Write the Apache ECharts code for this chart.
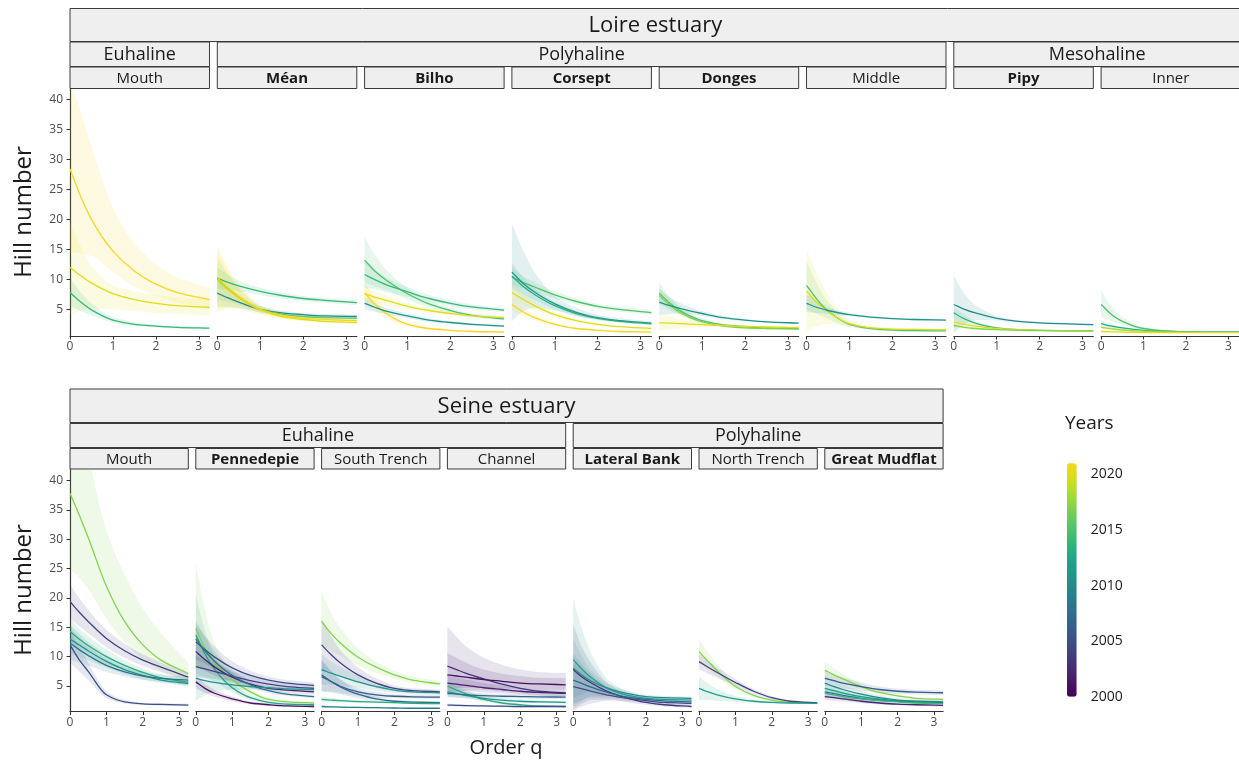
<!DOCTYPE html>
<html><head><meta charset="utf-8">
<script src="https://cdn.jsdelivr.net/npm/echarts@6/dist/echarts.min.js"></script>
<style>html,body{margin:0;padding:0;background:#fff}#c{width:1239px;height:763px}</style>
</head><body><div id="c"></div>
<script>
// ---------- data ----------
const Q = [0, 0.25, 0.5, 1, 1.5, 2, 2.5, 3.25];
const xTicks = [0, 1, 2, 3];
const yTicks = [5, 10, 15, 20, 25, 30, 35, 40];
const yearTicks = [2000, 2005, 2010, 2015, 2020];

const loireSites = ['Mouth', 'Méan', 'Bilho', 'Corsept', 'Donges', 'Middle', 'Pipy', 'Inner'];
const loireBold = [false, true, true, true, true, false, true, false];
const loireZones = [['Euhaline', 1], ['Polyhaline', 5], ['Mesohaline', 2]];
const seineSites = ['Mouth', 'Pennedepie', 'South Trench', 'Channel', 'Lateral Bank', 'North Trench', 'Great Mudflat'];
const seineBold = [false, true, false, false, true, false, true];
const seineZones = [['Euhaline', 4], ['Polyhaline', 3]];

// each curve: [year, mean, lower, upper] at the orders in Q
const loireMouth = [
  [2021, [28.4,23.8,20.0,14.7,11.4,9.2,7.8,6.6], [14.5,14.3,13.9,11.2,8.8,7.2,6.1,5.0], [44,38,32,22,16,12.5,10.3,8.6]],
  [2020, [12.0,10.6,9.4,7.6,6.6,6.0,5.6,5.3], [4.2,4.8,5.1,5.0,4.7,4.4,4.2,4.0], [19.5,15.5,12.2,9.0,8.0,7.4,7.0,6.7]],
  [2014, [7.8,6.2,4.9,3.2,2.5,2.2,2.0,1.85], [5.5,4.7,4.0,2.8,2.2,1.95,1.8,1.65], [10.2,7.8,6.0,3.7,2.85,2.45,2.2,2.05]]
];
const loireMean = [
  [2014, [10.2,9.5,8.9,8.0,7.3,6.8,6.5,6.1], [8.5,8.3,8.0,7.4,6.8,6.4,6.1,5.7], [12,10.8,9.8,8.6,7.8,7.2,6.9,6.5]],
  [2010, [7.7,6.9,6.2,5.0,4.4,4.1,3.9,3.8], [5.5,5.4,5.2,4.5,4.0,3.8,3.6,3.5], [9.8,8.4,7.2,5.5,4.8,4.4,4.2,4.1]],
  [2016, [10.1,8.5,7.1,5.0,4.2,3.8,3.6,3.5], [6.5,6.2,5.8,4.5,3.8,3.5,3.3,3.2], [13.5,10.8,8.5,5.6,4.6,4.1,3.9,3.8]],
  [2021, [10.3,8.6,7.2,5.0,4.0,3.5,3.3,3.1], [5.0,5.3,5.4,4.3,3.6,3.2,3.0,2.8], [15.5,12,9.2,5.8,4.5,3.9,3.6,3.4]],
  [2020, [9.8,8.2,6.9,4.9,3.8,3.3,3.0,2.8], [4.5,5.0,5.0,4.1,3.4,3.0,2.7,2.5], [14.5,11.5,8.8,5.6,4.3,3.6,3.3,3.1]]
];
const loireBilho = [
  [2015, [13.2,11.3,9.9,7.6,5.9,4.8,4.0,3.4], [9.5,8.8,8.2,6.6,5.3,4.4,3.7,3.1], [17,14,11.6,8.6,6.5,5.2,4.3,3.7]],
  [2014, [10.8,9.9,9.1,7.9,6.8,6.0,5.4,4.85], [8.6,8.3,7.9,7.1,6.2,5.5,5.0,4.5], [13,11.5,10.3,8.7,7.4,6.5,5.8,5.2]],
  [2020, [7.6,7.0,6.5,5.5,4.8,4.3,3.9,3.6], [6.2,6.0,5.7,5.0,4.4,4.0,3.6,3.3], [9.0,8.0,7.3,6.0,5.2,4.6,4.2,3.9]],
  [2021, [7.7,5.8,4.3,2.5,1.8,1.5,1.3,1.2], [6.0,4.6,3.5,2.1,1.6,1.35,1.2,1.1], [9.4,7.0,5.1,2.9,2.0,1.65,1.4,1.3]],
  [2011, [6.0,5.3,4.7,3.9,3.2,2.8,2.5,2.2], [5.0,4.6,4.2,3.5,2.9,2.6,2.3,2.0], [7.0,6.0,5.2,4.3,3.5,3.0,2.7,2.4]]
];
const loireCorsept = [
  [2015, [10.4,9.5,8.8,7.4,6.3,5.5,5.0,4.45], [9,8.5,8,6.8,5.8,5.1,4.6,4.1], [12,10.6,9.6,8.0,6.8,5.9,5.4,4.8]],
  [2011, [11.2,9.4,8.0,5.9,4.5,3.6,3.1,2.7], [3,4.6,5.2,4.8,3.9,3.2,2.8,2.4], [19.3,15,11.5,7.2,5.2,4.1,3.5,3.0]],
  [2013, [10.5,8.9,7.6,5.6,4.3,3.5,3.0,2.6], [8.5,7.5,6.6,5.0,3.9,3.2,2.8,2.4], [12.7,10.4,8.7,6.2,4.7,3.8,3.2,2.8]],
  [2020, [7.8,6.7,5.7,4.1,3.1,2.5,2.1,1.8], [6.5,5.7,5.0,3.7,2.8,2.3,1.95,1.65], [9.2,7.7,6.4,4.5,3.4,2.7,2.25,1.95]],
  [2021, [5.8,4.6,3.7,2.5,1.8,1.5,1.3,1.2], [4.8,3.9,3.2,2.2,1.6,1.35,1.2,1.1], [6.8,5.3,4.2,2.8,2.0,1.65,1.4,1.3]]
];
const loireDonges = [
  [2015, [7.7,6.0,4.7,3.1,2.4,2.1,1.9,1.8], [6.0,5.0,4.1,2.8,2.2,1.95,1.8,1.7], [9.5,7.1,5.4,3.5,2.6,2.25,2.05,1.95]],
  [2017, [7.3,5.7,4.4,2.9,2.2,1.9,1.8,1.7], [5.8,4.8,3.9,2.6,2.0,1.75,1.65,1.55], [8.8,6.7,5.0,3.2,2.4,2.05,1.95,1.85]],
  [2011, [6.2,5.6,5.1,4.3,3.6,3.2,2.9,2.7], [4.0,4.2,4.3,3.9,3.3,3.0,2.75,2.55], [8.4,7.0,6.0,4.7,3.9,3.4,3.05,2.85]],
  [2020, [2.75,2.7,2.6,2.45,2.3,2.15,2.05,1.95], [1.4,1.6,1.8,2.0,2.0,1.95,1.85,1.75], [4.1,3.8,3.4,2.9,2.6,2.35,2.25,2.15]]
];
const loireMiddle = [
  [2015, [9.0,6.6,4.7,2.5,1.8,1.55,1.45,1.4], [5.0,4.2,3.4,2.1,1.6,1.4,1.35,1.3], [13,9.2,6.2,2.9,2.0,1.7,1.55,1.5]],
  [2020, [8.0,6.1,4.6,2.6,1.9,1.7,1.65,1.6], [1.5,2.2,2.6,2.1,1.7,1.55,1.5,1.45], [15,10.8,7.4,3.3,2.2,1.9,1.8,1.75]],
  [2011, [6.0,5.3,4.8,4.1,3.7,3.45,3.3,3.2], [4.5,4.4,4.2,3.8,3.5,3.3,3.15,3.05], [7.5,6.3,5.4,4.4,3.9,3.6,3.45,3.35]]
];
const loirePipy = [
  [2010, [5.8,5.0,4.4,3.5,3.0,2.75,2.6,2.45], [1.0,2.5,3.2,3.1,2.8,2.6,2.45,2.3], [10.6,7.6,5.7,3.9,3.2,2.9,2.75,2.6]],
  [2014, [4.4,3.4,2.7,1.9,1.6,1.5,1.45,1.4], [3.3,2.7,2.3,1.7,1.5,1.4,1.35,1.3], [5.5,4.1,3.1,2.1,1.7,1.6,1.55,1.5]],
  [2020, [2.9,2.5,2.2,1.8,1.6,1.5,1.45,1.4], [2.3,2.1,1.9,1.65,1.5,1.42,1.38,1.33], [3.5,2.9,2.5,1.95,1.7,1.58,1.52,1.47]],
  [2017, [2.3,2.0,1.8,1.6,1.5,1.45,1.4,1.4], [1.9,1.75,1.6,1.5,1.42,1.38,1.34,1.34], [2.7,2.25,2.0,1.7,1.58,1.52,1.46,1.46]]
];
const loireInner = [
  [2015, [5.8,4.1,3.0,1.8,1.4,1.25,1.2,1.2], [3.8,3.0,2.4,1.6,1.3,1.18,1.14,1.14], [8.2,5.4,3.7,2.0,1.5,1.32,1.26,1.26]],
  [2013, [2.6,2.2,1.9,1.5,1.3,1.25,1.2,1.2], [2.1,1.9,1.7,1.4,1.25,1.2,1.16,1.16], [3.1,2.5,2.1,1.6,1.35,1.3,1.24,1.24]],
  [2018, [2.0,1.75,1.55,1.35,1.25,1.2,1.15,1.15], [1.7,1.55,1.42,1.28,1.2,1.15,1.11,1.11], [2.3,1.95,1.68,1.42,1.3,1.25,1.19,1.19]],
  [2020, [1.3,1.25,1.2,1.15,1.1,1.1,1.1,1.1], [1.15,1.12,1.1,1.07,1.04,1.04,1.04,1.04], [1.45,1.38,1.3,1.23,1.16,1.16,1.16,1.16]]
];

const seineMouth = [
  [2017, [37.8,34.2,30.3,22.0,16.0,12.0,9.4,7.1], [25,23.5,21.5,16.5,12.5,9.6,7.6,5.6], [55,49,44,31.5,24,18.2,14,9.0]],
  [2004, [19.4,17.6,16.0,13.1,11.0,9.4,8.2,6.5], [16.5,15.2,14.0,11.6,9.8,8.4,7.4,5.9], [22.3,20.0,18.0,14.6,12.2,10.4,9.0,7.1]],
  [2013, [14.3,13.0,11.9,10.0,8.5,7.3,6.4,5.6], [12.0,11.2,10.3,8.8,7.6,6.6,5.8,5.1], [16.6,14.8,13.5,11.2,9.4,8.0,7.0,6.1]],
  [2011, [13.0,12.0,11.0,9.2,7.8,6.8,6.0,5.4], [10.5,10.0,9.4,8.1,7.0,6.1,5.5,4.9], [15.5,14.0,12.6,10.3,8.6,7.5,6.5,5.9]],
  [2008, [12.3,11.2,10.2,8.5,7.4,6.7,6.3,6.0], [9.5,9.0,8.5,7.4,6.6,6.0,5.7,5.4], [15.1,13.4,11.9,9.6,8.2,7.4,6.9,6.6]],
  [2005, [12.0,9.5,7.5,3.5,2.3,1.95,1.85,1.75], [9.0,7.5,6.0,2.9,2.0,1.75,1.65,1.55], [15.0,11.5,9.0,4.1,2.6,2.15,2.05,1.95]]
];
const seinePennedepie = [
  [2017, [14.8,11.5,9.2,6.0,4.0,2.7,2.3,2.1], [8,7.5,6.8,4.8,3.4,2.4,2.05,1.85], [26,18,12.5,7.3,4.6,3.0,2.55,2.35]],
  [2012, [13.7,10.5,8.0,4.7,3.0,2.2,1.9,1.8], [7,6.5,5.8,3.9,2.6,1.95,1.7,1.6], [20.5,14.5,10.2,5.5,3.4,2.45,2.1,2.0]],
  [2005, [12.5,11.2,10.0,8.1,6.8,6.0,5.5,5.1], [9.5,8.8,8.2,7.0,6.0,5.4,5.0,4.6], [15.5,13.6,11.8,9.2,7.6,6.6,6.0,5.6]],
  [2002, [10.9,9.5,8.3,6.5,5.3,4.6,4.3,4.0], [8.5,7.6,6.9,5.6,4.7,4.1,3.85,3.6], [13.3,11.4,9.7,7.4,5.9,5.1,4.75,4.4]],
  [2004, [8.3,7.9,7.5,6.7,5.9,5.3,4.9,4.6], [6.5,6.4,6.2,5.8,5.2,4.8,4.4,4.1], [10.1,9.4,8.8,7.6,6.6,5.8,5.4,5.1]],
  [2011, [6.3,5.9,5.6,5.2,4.9,4.7,4.5,4.4], [2.5,3.4,4.0,4.4,4.4,4.3,4.15,4.05], [10.1,8.4,7.2,6.0,5.4,5.1,4.85,4.75]],
  [2001, [5.7,4.6,3.8,2.8,2.1,1.8,1.6,1.5], [4.6,3.8,3.2,2.4,1.85,1.6,1.45,1.35], [6.8,5.4,4.4,3.2,2.35,2.0,1.75,1.65]],
  [2008, [13.0,11.0,9.3,6.8,5.2,4.2,3.6,3.2], [9.8,8.6,7.6,5.8,4.6,3.8,3.3,2.9], [16.2,13.4,11.0,7.8,5.8,4.6,3.9,3.5]]
];
const seineSouthTrench = [
  [2017, [16.0,14.0,12.4,9.9,8.2,6.9,6.0,5.35], [12,11,10.2,8.5,7.2,6.2,5.5,4.9], [21,17.5,15,11.4,9.2,7.6,6.6,5.8]],
  [2004, [12.0,10.4,9.0,6.9,5.5,4.6,4.2,4.0], [7.5,7.2,6.8,5.6,4.7,4.1,3.8,3.6], [16.5,13.6,11.2,8.2,6.3,5.1,4.6,4.4]],
  [2011, [7.8,7.2,6.7,5.7,4.9,4.3,4.0,3.85], [5.2,5.2,5.1,4.7,4.2,3.8,3.6,3.45], [10.4,9.2,8.3,6.7,5.6,4.8,4.4,4.25]],
  [2006, [6.6,5.8,5.0,4.0,3.5,3.25,3.15,3.1], [4.0,4.0,3.8,3.3,3.0,2.9,2.85,2.8], [9.2,7.6,6.2,4.7,4.0,3.6,3.45,3.4]],
  [2007, [6.9,5.8,4.9,3.6,2.8,2.4,2.25,2.15], [4.2,3.9,3.6,2.9,2.4,2.15,2.0,1.95], [9.6,7.7,6.2,4.3,3.2,2.65,2.5,2.35]],
  [2013, [2.7,2.6,2.5,2.35,2.25,2.15,2.05,2.0], [2.2,2.2,2.2,2.1,2.05,1.95,1.9,1.85], [3.2,3.0,2.8,2.6,2.45,2.35,2.2,2.15]],
  [2009, [1.5,1.45,1.4,1.35,1.3,1.25,1.2,1.2], [1.3,1.28,1.25,1.22,1.18,1.14,1.1,1.1], [1.7,1.62,1.55,1.48,1.42,1.36,1.3,1.3]]
];
const seineChannel = [
  [2003, [8.4,7.8,7.2,6.2,5.3,4.6,4.1,3.8], [3.5,3.9,4.2,4.3,4.0,3.7,3.4,3.2], [15.1,13.4,11.8,9.8,8.6,7.8,7.4,7.2]],
  [2001, [6.9,6.7,6.5,6.1,5.8,5.5,5.35,5.2], [4.5,4.6,4.7,4.7,4.6,4.5,4.4,4.3], [10.6,9.8,9.0,7.8,7.1,6.7,6.4,6.3]],
  [2002, [5.5,5.3,5.1,4.7,4.4,4.1,3.9,3.75], [4.2,4.2,4.1,3.9,3.7,3.5,3.4,3.3], [6.8,6.4,6.1,5.5,5.1,4.7,4.4,4.2]],
  [2013, [5.0,4.3,3.7,2.7,2.1,1.8,1.6,1.5], [4.0,3.5,3.1,2.35,1.85,1.6,1.45,1.35], [6.0,5.1,4.3,3.05,2.35,2.0,1.75,1.65]],
  [2011, [4.0,3.7,3.4,2.9,2.6,2.4,2.3,2.2], [3.2,3.0,2.85,2.5,2.3,2.15,2.05,1.95], [4.8,4.4,4.0,3.3,2.9,2.65,2.55,2.45]],
  [2007, [3.75,3.6,3.5,3.35,3.25,3.2,3.15,3.1], [3.1,3.05,3.0,2.95,2.9,2.85,2.8,2.8], [4.4,4.2,4.0,3.75,3.6,3.55,3.5,3.4]],
  [2005, [1.75,1.7,1.65,1.6,1.55,1.5,1.5,1.5], [1.5,1.48,1.45,1.42,1.38,1.35,1.35,1.35], [2.0,1.92,1.85,1.78,1.72,1.65,1.65,1.65]]
];
const seineLateralBank = [
  [2012, [9.5,7.8,6.4,4.4,3.4,2.9,2.7,2.6], [1.5,2.5,3.3,3.3,2.8,2.5,2.35,2.25], [19.9,14.5,10.5,5.8,4.1,3.3,3.05,2.95]],
  [2003, [7.8,6.5,5.5,3.9,2.9,2.2,1.8,1.5], [1.0,2.0,2.6,2.7,2.2,1.8,1.5,1.25], [15.5,11.5,8.8,5.2,3.6,2.7,2.15,1.8]],
  [2007, [6.0,5.4,4.8,3.8,3.1,2.7,2.45,2.3], [2.0,2.6,3.0,3.0,2.6,2.35,2.15,2.0], [10.5,8.6,7.0,4.7,3.6,3.1,2.8,2.65]],
  [2005, [4.9,4.5,4.1,3.4,2.9,2.5,2.2,2.05], [0.8,1.5,2.0,2.5,2.4,2.1,1.9,1.75], [9.0,7.5,6.2,4.3,3.4,2.9,2.5,2.35]],
  [2010, [8.0,6.8,5.8,4.5,3.7,3.2,3.0,2.9], [3.0,3.6,4.0,3.7,3.2,2.85,2.7,2.6], [13.0,10.0,7.6,5.3,4.2,3.55,3.3,3.2]]
];
const seineNorthTrench = [
  [2017, [10.85,9.2,7.6,4.9,3.4,2.6,2.2,2.05], [9.0,7.8,6.6,4.4,3.1,2.4,2.05,1.9], [13.0,10.7,8.7,5.4,3.7,2.8,2.35,2.2]],
  [2004, [9.15,8.2,7.3,5.6,4.1,3.0,2.4,2.1], [7.8,7.1,6.4,5.0,3.7,2.75,2.2,1.95], [10.5,9.3,8.2,6.2,4.5,3.25,2.6,2.25]],
  [2012, [4.6,4.0,3.5,2.8,2.4,2.2,2.1,2.05], [2.6,2.6,2.5,2.3,2.1,2.0,1.95,1.9], [6.6,5.4,4.5,3.3,2.7,2.4,2.25,2.2]]
];
const seineGreatMudflat = [
  [2017, [7.7,6.9,6.2,4.9,3.9,3.3,2.9,2.7], [6.2,5.8,5.3,4.4,3.5,3.0,2.65,2.45], [9.2,8.0,7.1,5.4,4.3,3.6,3.15,2.95]],
  [2006, [6.3,5.9,5.5,4.9,4.4,4.1,3.95,3.85], [5.0,4.8,4.6,4.2,3.9,3.65,3.55,3.45], [7.6,7.0,6.4,5.6,4.9,4.55,4.35,4.25]],
  [2010, [5.5,4.9,4.4,3.6,3.0,2.6,2.4,2.3], [4.3,3.9,3.6,3.0,2.6,2.3,2.15,2.05], [6.7,5.9,5.2,4.2,3.4,2.9,2.65,2.55]],
  [2012, [4.6,4.2,3.8,3.2,2.8,2.5,2.35,2.2], [3.6,3.4,3.1,2.7,2.45,2.25,2.1,2.0], [5.6,5.0,4.5,3.7,3.15,2.75,2.6,2.4]],
  [2008, [4.0,3.7,3.4,2.9,2.6,2.4,2.3,2.2], [3.2,3.0,2.8,2.5,2.3,2.15,2.05,1.95], [4.8,4.4,4.0,3.3,2.9,2.65,2.55,2.45]],
  [2014, [3.8,3.5,3.2,2.8,2.5,2.3,2.1,2.0], [3.1,2.9,2.7,2.4,2.2,2.05,1.9,1.8], [4.5,4.1,3.7,3.2,2.8,2.55,2.3,2.2]],
  [2002, [3.2,3.0,2.8,2.4,2.1,1.9,1.8,1.7], [2.6,2.5,2.35,2.05,1.85,1.7,1.6,1.5], [3.8,3.5,3.25,2.75,2.35,2.1,2.0,1.9]]
];

const loirePanels = [loireMouth, loireMean, loireBilho, loireCorsept, loireDonges, loireMiddle, loirePipy, loireInner];
const seinePanels = [seineMouth, seinePennedepie, seineSouthTrench, seineChannel, seineLateralBank, seineNorthTrench, seineGreatMudflat];

// ---------- styling ----------
const FONT = '"Open Sans", "Noto Sans", sans-serif';
const VIRIDIS = ['#440154','#471365','#482475','#463480','#414487','#3b528b','#355f8d','#2f6c8e','#2a788e','#25848e','#21918c','#1e9c89','#22a884','#2fb47c','#44bf70','#5ec962','#7ad151','#9bd93c','#bddf26','#dedd16','#f8d61e'];
const YEAR_MIN = 2000, YEAR_MAX = 2021;
function hex2rgb(h) { return [1,3,5].map(i => parseInt(h.substr(i, 2), 16)); }
function viridis(year) {
  let t = (year - YEAR_MIN) / (YEAR_MAX - YEAR_MIN);
  t = Math.max(0, Math.min(1, t));
  const p = t * (VIRIDIS.length - 1), i = Math.min(Math.floor(p), VIRIDIS.length - 2), f = p - i;
  const a = hex2rgb(VIRIDIS[i]), b = hex2rgb(VIRIDIS[i + 1]);
  return a.map((v, k) => Math.round(v + (b[k] - v) * f));
}
const rgb = c => 'rgb(' + c.join(',') + ')';
const rgba = (c, a) => 'rgba(' + c.join(',') + ',' + a + ')';

// monotone cubic path segments in pixel space (rendering only)
function monoSegs(p) {
  const n = p.length, d = [], h = [], m = [];
  for (let i = 0; i < n - 1; i++) { h.push(p[i + 1][0] - p[i][0]); d.push((p[i + 1][1] - p[i][1]) / h[i]); }
  m[0] = d[0]; m[n - 1] = d[n - 2];
  for (let i = 1; i < n - 1; i++) {
    if (d[i - 1] * d[i] <= 0) m[i] = 0;
    else { const h0 = h[i - 1], h1 = h[i]; m[i] = 3 * (h0 + h1) / ((2 * h1 + h0) / d[i - 1] + (h1 + 2 * h0) / d[i]); }
  }
  let s = '';
  for (let i = 0; i < n - 1; i++) {
    const hh = h[i] / 3;
    s += ' C' + (p[i][0] + hh) + ' ' + (p[i][1] + m[i] * hh) + ' ' + (p[i + 1][0] - hh) + ' ' + (p[i + 1][1] - m[i + 1] * hh) + ' ' + p[i + 1][0] + ' ' + p[i + 1][1];
  }
  return s;
}

const grids = [], xAxes = [], yAxes = [], bandSeries = [], lineSeries = [], graphics = [];
const axisColor = '#333';

function addPanel(left, top, w, h, ymin, ymax, showY, curves) {
  const gi = grids.length;
  grids.push({ left: left, top: top, width: w, height: h, containLabel: false });
  xAxes.push({
    gridIndex: gi, type: 'value', min: 0, max: 3.25,
    axisLine: { show: true, lineStyle: { color: axisColor, width: 1.2 } },
    axisTick: { show: true, length: 3.5, lineStyle: { color: axisColor, width: 1 }, customValues: xTicks },
    axisLabel: { customValues: xTicks, fontSize: 12, color: '#4d4d4d', margin: 5, fontFamily: FONT,
      formatter: v => (Number.isInteger(v) ? String(v) : '') },
    splitLine: { show: false }
  });
  yAxes.push({
    gridIndex: gi, type: 'value', min: ymin, max: ymax, show: showY,
    axisLine: { show: true, lineStyle: { color: axisColor, width: 1.2 } },
    axisTick: { show: true, length: 3.5, lineStyle: { color: axisColor, width: 1 }, customValues: yTicks },
    axisLabel: { customValues: yTicks, fontSize: 12, color: '#4d4d4d', margin: 7, fontFamily: FONT,
      formatter: v => (yTicks.indexOf(v) >= 0 ? String(v) : '') },
    splitLine: { show: false }
  });
  curves.forEach(c => {
    const year = c[0], m = c[1], lo = c[2], hi = c[3];
    const col = viridis(year);
    // confidence ribbon
    bandSeries.push({
      type: 'custom', xAxisIndex: gi, yAxisIndex: gi, clip: true, silent: true, z: 2,
      data: Q.map((q, i) => [q, lo[i], hi[i]]),
      renderItem: function (params, api) {
        if (params.dataIndex !== 0) return null;
        const up = Q.map((q, i) => api.coord([q, hi[i]]));
        const dn = Q.map((q, i) => api.coord([q, lo[i]])).reverse();
        const d = 'M' + up[0][0] + ' ' + up[0][1] + monoSegs(up) + ' L' + dn[0][0] + ' ' + dn[0][1] + monoSegs(dn) + ' Z';
        return { type: 'path', shape: { pathData: d }, style: { fill: rgba(col, 0.13), stroke: null } };
      }
    });
    // mean curve
    lineSeries.push({
      type: 'custom', xAxisIndex: gi, yAxisIndex: gi, clip: true, silent: true, z: 3,
      data: Q.map((q, i) => [q, m[i]]),
      renderItem: function (params, api) {
        if (params.dataIndex !== 0) return null;
        const pts = Q.map((q, i) => api.coord([q, m[i]]));
        const d = 'M' + pts[0][0] + ' ' + pts[0][1] + monoSegs(pts);
        return { type: 'path', shape: { pathData: d }, style: { fill: 'none', stroke: rgb(col), lineWidth: 1.3 } };
      }
    });
  });
}

function stripBox(x, y, w, h, text, size, bold) {
  graphics.push({ type: 'rect', silent: true, shape: { x: x, y: y, width: w, height: h },
    style: { fill: '#efefef', stroke: '#3a3a3a', lineWidth: 1 } });
  graphics.push({ type: 'text', silent: true, x: x + w / 2, y: y + h / 2 + 0.5,
    style: { text: text, fontSize: size, fontFamily: FONT, fontWeight: bold ? 'bold' : 'normal',
      fill: '#1a1a1a', align: 'center', verticalAlign: 'middle' } });
}

// Loire layout
const L = { left: 70, step: 147.3, w: 139.5, top: 89, h: 247, rows: [[8.5, 33], [42, 24.5], [67, 21.5]] };
loirePanels.forEach((c, i) => addPanel(L.left + i * L.step, L.top, L.w, L.h, 0.55, 41.72, i === 0, c));
// Seine layout
const S = { left: 70, step: 125.8, w: 118.3, top: 469.5, h: 242, rows: [[389, 33.5], [423.5, 24], [448.5, 20.5]] };
seinePanels.forEach((c, i) => addPanel(S.left + i * S.step, S.top, S.w, S.h, 0.65, 41.9, i === 0, c));

function strips(G, sites, bold, zones, title) {
  const n = sites.length;
  const right = G.left + (n - 1) * G.step + G.w;
  stripBox(G.left, G.rows[0][0], right - G.left, G.rows[0][1], title, 22, false);
  let k = 0;
  zones.forEach(z => {
    const x0 = G.left + k * G.step, x1 = G.left + (k + z[1] - 1) * G.step + G.w;
    stripBox(x0, G.rows[1][0], x1 - x0, G.rows[1][1], z[0], 18, false);
    k += z[1];
  });
  sites.forEach((s, i) => stripBox(G.left + i * G.step, G.rows[2][0], G.w, G.rows[2][1], s, 15, bold[i]));
}
strips(L, loireSites, loireBold, loireZones, 'Loire estuary');
strips(S, seineSites, seineBold, seineZones, 'Seine estuary');

// axis titles
graphics.push({ type: 'text', silent: true, x: 24, y: 212, rotation: Math.PI / 2,
  style: { text: 'Hill number', fontSize: 24, fontFamily: FONT, fill: '#1a1a1a', align: 'center', verticalAlign: 'middle' } });
graphics.push({ type: 'text', silent: true, x: 24, y: 590, rotation: Math.PI / 2,
  style: { text: 'Hill number', fontSize: 24, fontFamily: FONT, fill: '#1a1a1a', align: 'center', verticalAlign: 'middle' } });
graphics.push({ type: 'text', silent: true, x: 506, y: 748,
  style: { text: 'Order q', fontSize: 20, fontFamily: FONT, fill: '#1a1a1a', align: 'center', verticalAlign: 'middle' } });
graphics.push({ type: 'text', silent: true, x: 1065, y: 424,
  style: { text: 'Years', fontSize: 19, fontFamily: FONT, fill: '#1a1a1a', align: 'left', verticalAlign: 'middle' } });

// legend colour bar axis
const legGi = grids.length;
const LEG = { left: 1067, top: 463.3, w: 9.7, h: 233.4 };
grids.push({ left: LEG.left, top: LEG.top, width: LEG.w, height: LEG.h });
xAxes.push({ gridIndex: legGi, type: 'value', min: 0, max: 1, show: false });
yAxes.push({ gridIndex: legGi, type: 'value', min: YEAR_MIN, max: YEAR_MAX, position: 'right',
  axisLine: { show: false }, axisTick: { show: false }, splitLine: { show: false },
  axisLabel: { customValues: yearTicks, fontSize: 14, color: '#1a1a1a', margin: 14, fontFamily: FONT,
    formatter: v => (yearTicks.indexOf(v) >= 0 ? String(v) : '') } });
const allSeries = bandSeries.concat(lineSeries);
const dummyIdx = allSeries.length;
allSeries.push({ type: 'scatter', xAxisIndex: legGi, yAxisIndex: legGi, data: [], silent: true });

const chart = echarts.init(document.getElementById('c'), null, { renderer: 'canvas' });
chart.setOption({
  animation: false,
  backgroundColor: '#ffffff',
  textStyle: { fontFamily: FONT },
  grid: grids, xAxis: xAxes, yAxis: yAxes,
  visualMap: [{ type: 'continuous', min: YEAR_MIN, max: YEAR_MAX, seriesIndex: [dummyIdx],
    left: LEG.left, top: LEG.top, itemWidth: LEG.w, itemHeight: LEG.h, padding: 0,
    calculable: false, hoverLink: false, text: null, inRange: { color: VIRIDIS } }],
  graphic: { elements: graphics },
  series: allSeries
});
</script></body></html>
